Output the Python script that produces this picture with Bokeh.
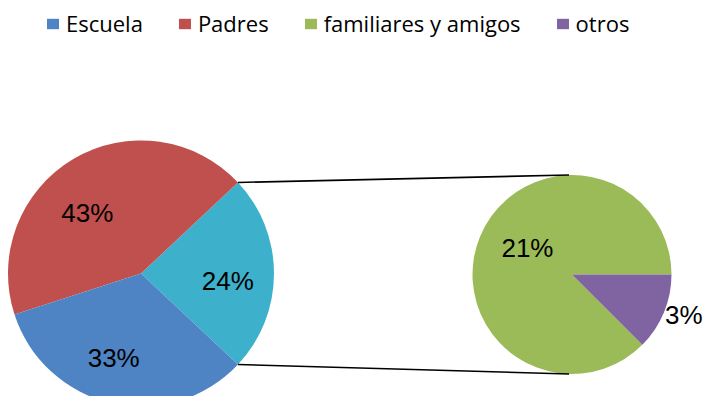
import math
from bokeh.plotting import figure
from bokeh.models import ColumnDataSource, Range1d, Legend, LegendItem
from bokeh.core.properties import value
from bokeh.embed import file_html
from bokeh.resources import INLINE

# ---- data ----
categories = ["Escuela", "Padres", "familiares y amigos", "otros"]
values = [33, 43, 21, 3]
pct_labels = ["33%", "43%", "21%", "3%"]
combined_label = "24%"

# ---- style ----
colors = {"Escuela": "#4F84C4", "Padres": "#C0504D",
          "familiares y amigos": "#9BBB59", "otros": "#8064A2"}
combined_color = "#3DB1CB"
W, H = 703, 396
# layout (pixel-like coords, y upward from canvas bottom)
C1 = (140.5, 123.0); R1 = 133.0
C2 = (571.5, 122.0); R2 = 99.5
LABEL_FONT = "Liberation Sans"
LABEL_SIZE = "26px"

p = figure(width=W, height=H, output_backend="svg", toolbar_location=None,
           x_range=Range1d(0, W), y_range=Range1d(0, H),
           min_border=0, outline_line_color=None)
p.axis.visible = False
p.grid.visible = False
p.background_fill_color = "white"
p.border_fill_color = "white"

val = dict(zip(categories, values))
lab = dict(zip(categories, pct_labels))
total = sum(values)
combined = val["familiares y amigos"] + val["otros"]

# main pie: combined slice centered at angle 0, then Padres, then Escuela (anticlockwise)
main_vals = [combined, val["Padres"], val["Escuela"]]
main_cols = [combined_color, colors["Padres"], colors["Escuela"]]
main_labs = [combined_label, lab["Padres"], lab["Escuela"]]
a = -combined / total * math.pi
s1, e1, mid1 = [], [], []
for v in main_vals:
    da = v / total * 2 * math.pi
    s1.append(a); e1.append(a + da); mid1.append(a + da / 2)
    a += da
src1 = ColumnDataSource(dict(start=s1, end=e1, color=main_cols,
                             x=[C1[0]] * 3, y=[C1[1]] * 3))
r1 = p.wedge(x="x", y="y", radius=R1, start_angle="start", end_angle="end",
             fill_color="color", line_color=None, source=src1)

# secondary pie: familiares from 0 anticlockwise, then otros
sec_names = ["familiares y amigos", "otros"]
sec_vals = [val[n] for n in sec_names]
a = 0.0
s2, e2, mid2 = [], [], []
for v in sec_vals:
    da = v / combined * 2 * math.pi
    s2.append(a); e2.append(a + da); mid2.append(a + da / 2)
    a += da
src2 = ColumnDataSource(dict(start=s2, end=e2, color=[colors[n] for n in sec_names],
                             x=[C2[0]] * 2, y=[C2[1]] * 2))
r2 = p.wedge(x="x", y="y", radius=R2, start_angle="start", end_angle="end",
             fill_color="color", line_color=None, source=src2)

# connector lines from edges of combined slice to top/bottom of secondary pie
x_a = [C1[0] + R1 * math.cos(e1[0]), C1[0] + R1 * math.cos(s1[0])]
y_a = [C1[1] + R1 * math.sin(e1[0]), C1[1] + R1 * math.sin(s1[0])]
x_b = [C2[0] - 3, C2[0] - 3]
y_b = [C2[1] + R2, C2[1] - R2]
p.segment(x0=x_a, y0=y_a, x1=x_b, y1=y_b, line_color="black", line_width=1.6)

# labels
main_frac = [0.63, 0.63, 0.63]
main_off = [(3, 7), (-11, 12), (-9, 3)]
lx = [C1[0] + f * R1 * math.cos(m) for f, m in zip(main_frac, mid1)]
ly = [C1[1] + f * R1 * math.sin(m) for f, m in zip(main_frac, mid1)]
sec_frac = [0.55, 1.25]
sec_off = [(6, -6), (-3, -7)]
lx += [C2[0] + f * R2 * math.cos(m) for f, m in zip(sec_frac, mid2)]
ly += [C2[1] + f * R2 * math.sin(m) for f, m in zip(sec_frac, mid2)]
offs = main_off + sec_off
texts = main_labs + [lab[n] for n in sec_names]
src_t = ColumnDataSource(dict(x=lx, y=ly, t=texts,
                              xo=[o[0] for o in offs], yo=[o[1] for o in offs]))
p.text(x="x", y="y", text="t", x_offset="xo", y_offset="yo", source=src_t,
       text_font=value(LABEL_FONT), text_font_size=LABEL_SIZE,
       text_align="center", text_baseline="middle", text_color="black")

# legend
items = [
    LegendItem(label="Escuela", renderers=[r1], index=2),
    LegendItem(label="Padres", renderers=[r1], index=1),
    LegendItem(label="familiares y amigos", renderers=[r2], index=0),
    LegendItem(label="otros", renderers=[r2], index=1),
]
legend = Legend(items=items, orientation="horizontal", location=(45, 358),
                glyph_width=15, glyph_height=13, label_standoff=6, spacing=34,
                padding=0, margin=0, border_line_color=None,
                background_fill_alpha=0,
                label_text_font="Open Sans", label_text_font_size="22px",
                label_text_color="black")
p.add_layout(legend, "center")

open("out.html", "w").write(file_html(p, INLINE))
